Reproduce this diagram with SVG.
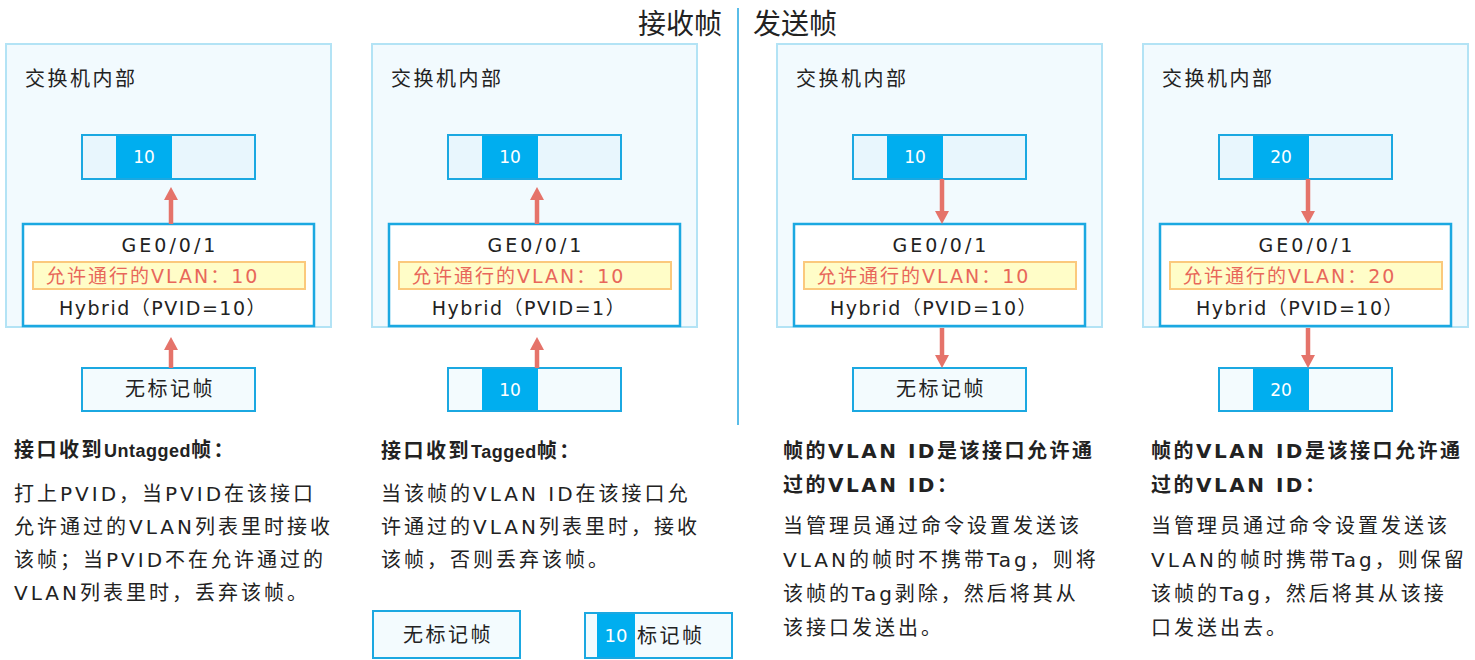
<svg xmlns="http://www.w3.org/2000/svg" width="1475" height="660" viewBox="0 0 1475 660">
<style>
text{font-family:"DejaVu Sans","Noto Sans CJK SC",sans-serif;fill:#222}
.cjk{font-family:"Noto Sans CJK SC",sans-serif}
.title{font-size:28px}
.lbl{font-size:20px;letter-spacing:2.5px}
.panel{fill:#f2fafe;stroke:#b3e3f5;stroke-width:2}
.tagbg{fill:#e8f6fd}
.tagbg2{fill:#f3fbfe}
.tagblue{fill:#00aeef}
.outline{fill:none;stroke:#1ba8e1;stroke-width:2}
.port{fill:#fff;stroke:#1ba8e1;stroke-width:2.5}
.allow{fill:#fffdc8;stroke:#fbc97c;stroke-width:2}
.num{font-size:17px;fill:#fff;text-anchor:middle}
.ge{font-size:19px;letter-spacing:3px;text-anchor:middle}
.allowt{font-size:19px;letter-spacing:2px;fill:#e8675a}
.hyb{font-size:19px;letter-spacing:1.5px;text-anchor:middle}
.frame{fill:#f3fbfe;stroke:#1ba8e1;stroke-width:2}
.ft{font-size:20px;letter-spacing:2.5px;text-anchor:middle}
.head{font-size:20px;font-weight:bold;letter-spacing:2.5px}
.lw{font-family:"Liberation Sans",sans-serif;font-size:18px;letter-spacing:0.5px}
.body{font-size:20px;letter-spacing:3px}
.arr{stroke:#e5736a;stroke-width:4.5;fill:none;marker-end:url(#ah)}
</style>
<defs>
<marker id="ah" markerUnits="userSpaceOnUse" markerWidth="14" markerHeight="16" viewBox="0 -8 14 16" refX="0" refY="0" orient="auto">
<path d="M0,-7 L13,0 L0,7 Z" fill="#e5736a"/>
</marker>
</defs>
<rect width="1475" height="660" fill="#fff"/>

<g id="titles">
<text class="title cjk" x="722" y="34" text-anchor="end">接收帧</text>
<text class="title cjk" x="753" y="34">发送帧</text>
<line x1="738" y1="8" x2="738" y2="425" stroke="#23a7e0" stroke-width="1.5"/>
</g>

<!-- Panel 1 -->
<g id="panel1">
<rect class="panel" x="6" y="44" width="325" height="283"/>
<text class="lbl cjk" x="25" y="86">交换机内部</text>
<g id="p1-tag">
<rect class="tagbg" x="82" y="135" width="173" height="44"/>
<rect class="tagblue" x="116" y="135" width="56" height="44"/>
<rect class="outline" x="82" y="135" width="173" height="44"/>
<text class="num" x="144" y="163">10</text>
</g>
<g id="p1-port">
<rect class="port" x="23" y="224" width="291" height="102"/>
<text class="ge" x="170" y="252">GE0/0/1</text>
<rect class="allow" x="33" y="262" width="272" height="27"/>
<text class="allowt" x="46" y="283">允许通行的VLAN：10</text>
<text class="hyb" x="163" y="315">Hybrid（PVID=10）</text>
</g>
<g id="p1-frame">
<rect class="frame" x="82" y="368" width="173" height="43"/>
<text class="ft cjk" x="170" y="396">无标记帧</text>
</g>
<g id="p1-desc">
<text class="head" x="14" y="457">接口收到<tspan class="lw">Untagged</tspan>帧：</text>
<text class="body" x="14" y="501">打上PVID，当PVID在该接口</text>
<text class="body" x="14" y="534">允许通过的VLAN列表里时接收</text>
<text class="body" x="14" y="567">该帧；当PVID不在允许通过的</text>
<text class="body" x="14" y="600">VLAN列表里时，丢弃该帧。</text>
</g>
</g>

<!-- Panel 2 -->
<g id="panel2">
<rect class="panel" x="372" y="44" width="325" height="283"/>
<text class="lbl cjk" x="391" y="86">交换机内部</text>
<g id="p2-tag">
<rect class="tagbg" x="448" y="135" width="173" height="44"/>
<rect class="tagblue" x="482" y="135" width="56" height="44"/>
<rect class="outline" x="448" y="135" width="173" height="44"/>
<text class="num" x="510" y="163">10</text>
</g>
<g id="p2-port">
<rect class="port" x="389" y="224" width="291" height="102"/>
<text class="ge" x="536" y="252">GE0/0/1</text>
<rect class="allow" x="399" y="262" width="272" height="27"/>
<text class="allowt" x="412" y="283">允许通行的VLAN：10</text>
<text class="hyb" x="529" y="315">Hybrid（PVID=1）</text>
</g>
<g id="p2-frame">
<rect class="tagbg2" x="448" y="368" width="173" height="43"/>
<rect class="tagblue" x="482" y="368" width="56" height="43"/>
<rect class="outline" x="448" y="368" width="173" height="43"/>
<text class="num" x="510" y="396">10</text>
</g>
<g id="p2-desc">
<text class="head" x="381" y="458">接口收到<tspan class="lw">Tagged</tspan>帧：</text>
<text class="body" x="381" y="501">当该帧的VLAN ID在该接口允</text>
<text class="body" x="381" y="534">许通过的VLAN列表里时，接收</text>
<text class="body" x="381" y="567">该帧，否则丢弃该帧。</text>
</g>
</g>

<!-- Panel 3 -->
<g id="panel3">
<rect class="panel" x="777" y="44" width="325" height="283"/>
<text class="lbl cjk" x="796" y="86">交换机内部</text>
<g id="p3-tag">
<rect class="tagbg" x="853" y="135" width="173" height="44"/>
<rect class="tagblue" x="887" y="135" width="56" height="44"/>
<rect class="outline" x="853" y="135" width="173" height="44"/>
<text class="num" x="915" y="163">10</text>
</g>
<g id="p3-port">
<rect class="port" x="794" y="224" width="291" height="102"/>
<text class="ge" x="941" y="252">GE0/0/1</text>
<rect class="allow" x="804" y="262" width="272" height="27"/>
<text class="allowt" x="817" y="283">允许通行的VLAN：10</text>
<text class="hyb" x="934" y="315">Hybrid（PVID=10）</text>
</g>
<g id="p3-frame">
<rect class="frame" x="853" y="368" width="173" height="43"/>
<text class="ft cjk" x="941" y="396">无标记帧</text>
</g>
<g id="p3-desc">
<text class="head" x="783" y="458">帧的VLAN ID是该接口允许通</text>
<text class="head" x="783" y="492">过的VLAN ID：</text>
<text class="body" x="783" y="533">当管理员通过命令设置发送该</text>
<text class="body" x="783" y="567">VLAN的帧时不携带Tag，则将</text>
<text class="body" x="783" y="601">该帧的Tag剥除，然后将其从</text>
<text class="body" x="783" y="635">该接口发送出。</text>
</g>
</g>

<!-- Panel 4 -->
<g id="panel4">
<rect class="panel" x="1143" y="44" width="325" height="283"/>
<text class="lbl cjk" x="1162" y="86">交换机内部</text>
<g id="p4-tag">
<rect class="tagbg" x="1219" y="135" width="173" height="44"/>
<rect class="tagblue" x="1253" y="135" width="56" height="44"/>
<rect class="outline" x="1219" y="135" width="173" height="44"/>
<text class="num" x="1281" y="163">20</text>
</g>
<g id="p4-port">
<rect class="port" x="1160" y="224" width="291" height="102"/>
<text class="ge" x="1307" y="252">GE0/0/1</text>
<rect class="allow" x="1170" y="262" width="272" height="27"/>
<text class="allowt" x="1183" y="283">允许通行的VLAN：20</text>
<text class="hyb" x="1300" y="315">Hybrid（PVID=10）</text>
</g>
<g id="p4-frame">
<rect class="tagbg2" x="1219" y="368" width="173" height="43"/>
<rect class="tagblue" x="1253" y="368" width="56" height="43"/>
<rect class="outline" x="1219" y="368" width="173" height="43"/>
<text class="num" x="1281" y="396">20</text>
</g>
<g id="p4-desc">
<text class="head" x="1151" y="458">帧的VLAN ID是该接口允许通</text>
<text class="head" x="1151" y="492">过的VLAN ID：</text>
<text class="body" x="1151" y="533">当管理员通过命令设置发送该</text>
<text class="body" x="1151" y="567">VLAN的帧时携带Tag，则保留</text>
<text class="body" x="1151" y="601">该帧的Tag，然后将其从该接</text>
<text class="body" x="1151" y="635">口发送出去。</text>
</g>
</g>

<!-- Legend -->
<g id="legend-untagged">
<rect class="frame" x="373" y="611" width="147" height="47"/>
<text class="ft cjk" x="448" y="642">无标记帧</text>
</g>
<g id="legend-tagged">
<rect class="tagbg2" x="585" y="613" width="147" height="45"/>
<rect class="tagblue" x="597" y="613" width="38" height="45"/>
<rect class="outline" x="585" y="613" width="147" height="45"/>
<text class="num" x="616" y="642" style="font-size:18px">10</text>
<text class="lbl cjk" x="637" y="643">标记帧</text>
</g>

<g id="connectors">
<line class="arr" x1="171" y1="224" x2="171" y2="200"/>
<line class="arr" x1="171" y1="368" x2="171" y2="350"/>
<line class="arr" x1="537" y1="224" x2="537" y2="200"/>
<line class="arr" x1="537" y1="368" x2="537" y2="350"/>
<line class="arr" x1="942" y1="179" x2="942" y2="211"/>
<line class="arr" x1="942" y1="328" x2="942" y2="355"/>
<line class="arr" x1="1308" y1="179" x2="1308" y2="211"/>
<line class="arr" x1="1308" y1="328" x2="1308" y2="355"/>
</g>
</svg>
